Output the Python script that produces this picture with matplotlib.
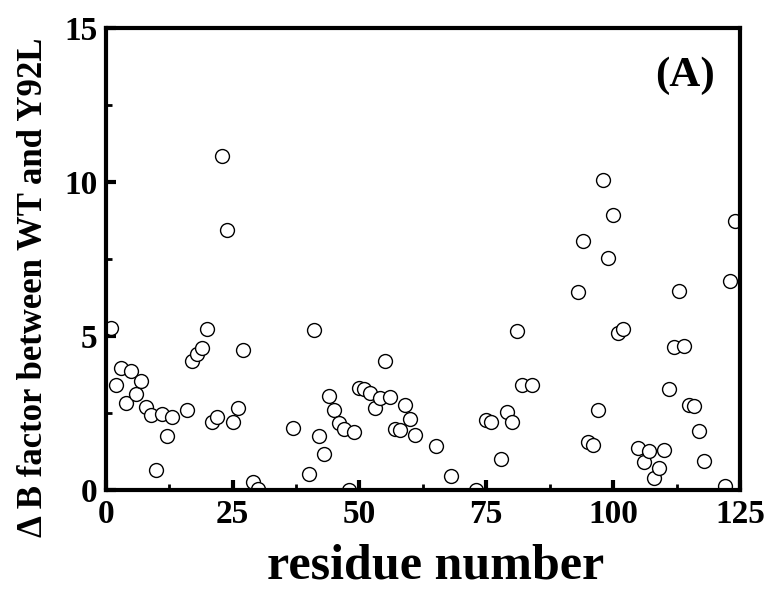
# -*- coding: utf-8 -*-
import matplotlib
matplotlib.use("Agg")
import matplotlib.pyplot as plt
from matplotlib.ticker import MultipleLocator

residues = [1, 2, 3, 4, 5, 6, 7, 8, 9, 10, 11, 12, 13, 16, 17, 18, 19, 20,
            21, 22, 23, 24, 25, 26, 27, 29, 30, 37, 40, 41, 42, 43, 44, 45,
            46, 47, 48, 49, 50, 51, 52, 53, 54, 55, 56, 57, 58, 59, 60, 61,
            65, 68, 73, 75, 76, 78, 79, 80, 81, 82, 84, 93, 94, 95, 96, 97,
            98, 99, 100, 101, 102, 105, 106, 107, 108, 109, 110, 111, 112,
            113, 114, 115, 116, 117, 118, 122, 123, 124]
delta_b = [5.27, 3.40, 3.96, 2.83, 3.86, 3.13, 3.53, 2.70, 2.43, 0.67, 2.46,
           1.75, 2.38, 2.61, 4.20, 4.42, 4.62, 5.25, 2.23, 2.37, 10.84, 8.44,
           2.23, 2.68, 4.56, 0.27, 0.05, 2.03, 0.51, 5.19, 1.76, 1.18, 3.07,
           2.60, 2.18, 1.98, 0.02, 1.88, 3.32, 3.30, 3.16, 2.66, 2.99, 4.18,
           3.02, 2.00, 1.97, 2.78, 2.30, 1.79, 1.42, 0.46, 0.02, 2.29, 2.23,
           1.01, 2.55, 2.23, 5.17, 3.41, 3.40, 6.42, 8.08, 1.55, 1.48, 2.62,
           10.07, 7.53, 8.95, 5.12, 5.22, 1.36, 0.90, 1.27, 0.40, 0.73, 1.32,
           3.28, 4.64, 6.46, 4.68, 2.78, 2.73, 1.93, 0.94, 0.13, 6.80, 8.74]

plt.rcParams['font.family'] = ['Liberation Serif', 'DejaVu Serif']
plt.rcParams['font.weight'] = 'bold'

fig = plt.figure(figsize=(7.66, 6.0), dpi=100)
ax = fig.add_axes([0.138, 0.183, 0.828, 0.770])

ax.plot(residues, delta_b, 'o', ms=10, mfc='white', mec='black', mew=1.0)

ax.set_xlim(0, 125)
ax.set_ylim(0, 15)
ax.xaxis.set_major_locator(MultipleLocator(25))
ax.xaxis.set_minor_locator(MultipleLocator(12.5))
ax.yaxis.set_major_locator(MultipleLocator(5))
ax.yaxis.set_minor_locator(MultipleLocator(2.5))

for s in ax.spines.values():
    s.set_linewidth(3)
ax.tick_params(which='major', direction='in', length=7, width=3,
               labelsize=24, pad=6)
ax.tick_params(which='minor', direction='in', length=4, width=2)
for lab in ax.get_xticklabels() + ax.get_yticklabels():
    lab.set_fontweight('bold')

ax.set_xlabel("residue number", fontsize=36, fontweight='bold')
ax.xaxis.set_label_coords(0.52, -0.115)
ax.set_ylabel("\u0394 B factor between WT and Y92L", fontsize=25,
              fontweight='bold')
ax.yaxis.set_label_coords(-0.088, 0.44)
ax.text(0.913, 0.898, "(A)", transform=ax.transAxes, fontsize=31,
        fontweight='bold', ha='center', va='center')

fig.savefig("out.png", dpi=100)
